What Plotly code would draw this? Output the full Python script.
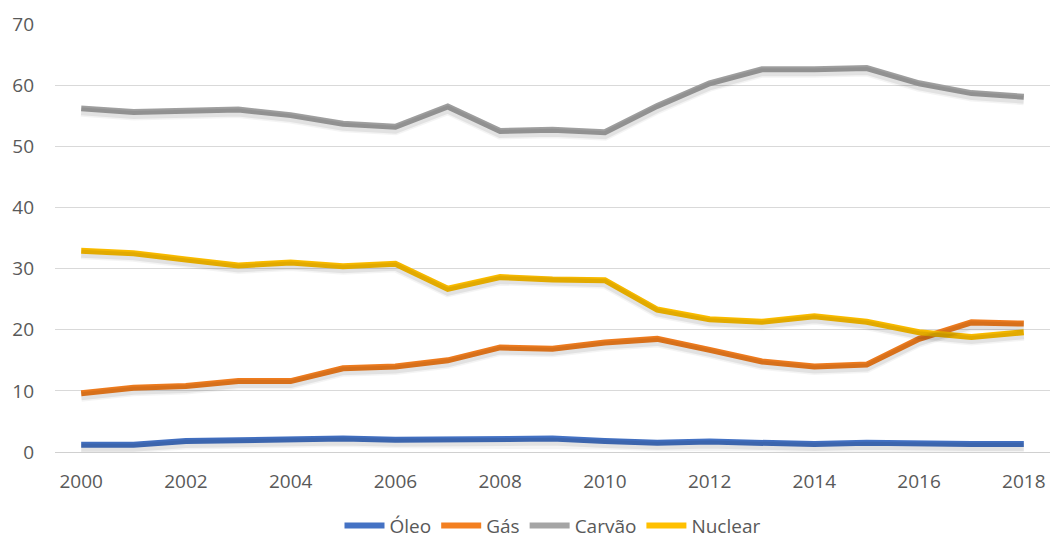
import plotly.graph_objects as go

anos = list(range(2000, 2019))
oleo = [1.2, 1.2, 1.8, 2.0, 2.0, 2.2, 2.0, 2.0, 2.0, 2.2, 1.8, 1.5, 1.7, 1.5, 1.3, 1.5, 1.3, 1.3, 1.3]
gas = [9.6, 10.5, 10.8, 11.6, 11.6, 13.7, 14.0, 15.0, 17.1, 16.9, 17.9, 18.5, 16.7, 14.8, 14.0, 14.3, 18.5, 21.2, 21.0]
carvao = [56.2, 55.6, 55.8, 56.0, 55.1, 53.7, 53.2, 56.5, 52.5, 52.7, 52.3, 56.6, 60.3, 62.6, 62.6, 62.8, 60.3, 58.7, 58.1]
nuclear = [32.9, 32.5, 31.5, 30.5, 31.0, 30.4, 30.8, 26.7, 28.6, 28.2, 28.1, 23.3, 21.7, 21.3, 22.2, 21.3, 19.6, 18.8, 19.6]

nomes = ["Óleo", "Gás", "Carvão", "Nuclear"]
series = [oleo, gas, carvao, nuclear]
cores = ["#4472C4", "#F37F20", "#A5A5A5", "#FFC000"]

ticks_x = list(range(2000, 2019, 2))

Y_MAX = 70
PLOT_TOP, PLOT_BOTTOM = 24, 89
altura_plot = 541 - PLOT_TOP - PLOT_BOTTOM
desloc = 3.0 * Y_MAX / altura_plot  # soft drop shadow offset, in data units

fig = go.Figure()

# soft drop shadows drawn on an overlaid axis shifted a few pixels down
for vals in series:
    for largura, alfa in ((11, 0.045), (8, 0.07)):
        fig.add_trace(go.Scatter(
            x=anos, y=vals, mode="lines", yaxis="y2", showlegend=False, hoverinfo="skip",
            line=dict(color=f"rgba(0,0,0,{alfa})", width=largura),
        ))

for nome, vals, cor in zip(nomes, series, cores):
    fig.add_trace(go.Scatter(
        x=anos, y=vals, mode="lines", name=nome,
        line=dict(color=cor, width=6),
    ))

fig.update_layout(
    width=1055, height=541,
    margin=dict(l=55, r=5, t=PLOT_TOP, b=PLOT_BOTTOM, autoexpand=False),
    paper_bgcolor="white", plot_bgcolor="white",
    font=dict(family="Open Sans, sans-serif", size=19, color="#595959"),
    xaxis=dict(
        range=[1999.5, 2018.5], tickvals=ticks_x, ticktext=[str(a) for a in ticks_x],
        showgrid=False, zeroline=False, showline=True, linecolor="#D0D0D0", linewidth=1,
        ticks="", ticklabelstandoff=12,
    ),
    yaxis=dict(
        range=[0, Y_MAX], dtick=10, showgrid=True, gridcolor="#D9D9D9", gridwidth=1,
        zeroline=False, showline=False, ticks="", ticklabelstandoff=20,
    ),
    yaxis2=dict(
        range=[desloc, Y_MAX + desloc], overlaying="y", visible=False,
    ),
    legend=dict(
        orientation="h", x=0.5, xanchor="center", y=-0.172, yanchor="middle",
        font=dict(size=19, color="#595959"), itemwidth=40, traceorder="normal",
        tracegroupgap=0,
    ),
)

fig.write_html("out.html")
